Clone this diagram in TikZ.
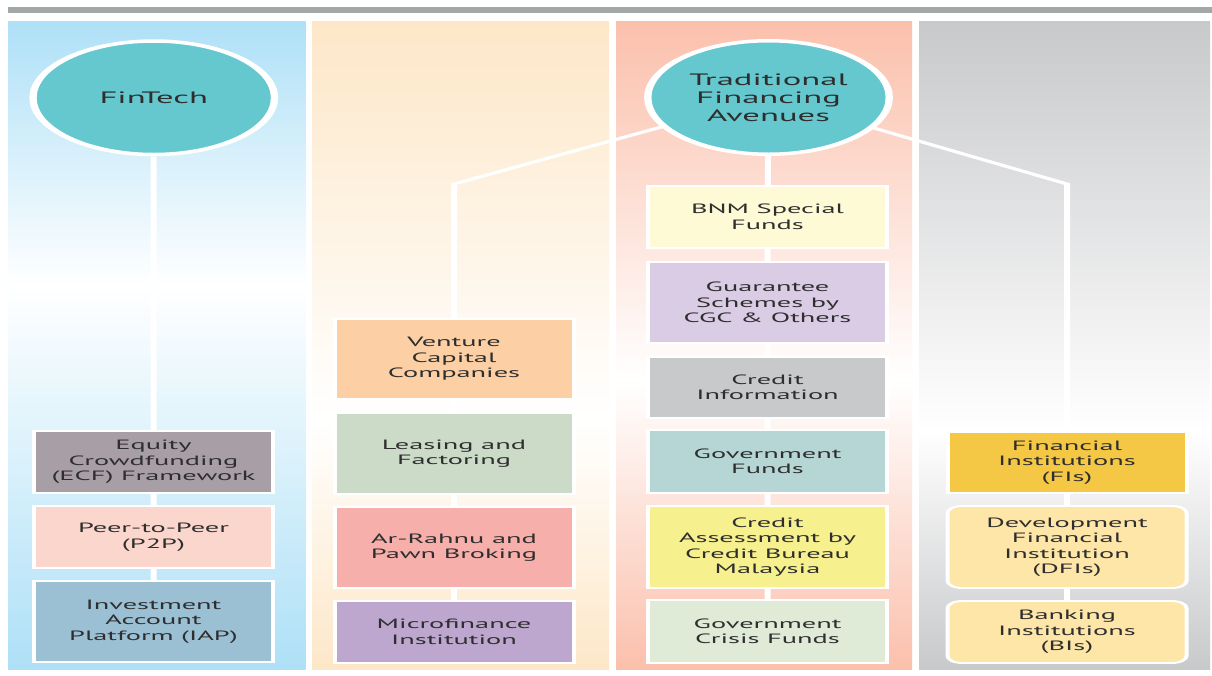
\documentclass[tikz,border=0pt]{standalone}
\usepackage{fontspec}
\setmainfont{PT Sans}
\usetikzlibrary{shapes.geometric}

% panel tints
\definecolor{rulegray}{HTML}{A2A7A7}
\definecolor{panelA}{HTML}{AEE0F7}
\definecolor{panelB}{HTML}{FDE7C8}
\definecolor{panelC}{HTML}{FBC0AC}
\definecolor{panelD}{HTML}{C8C9CB}
% node fills
\definecolor{oval}{HTML}{65C8CF}
\definecolor{ink}{HTML}{2E2E2E}
\definecolor{fECF}{HTML}{A89EA6}
\definecolor{fPTP}{HTML}{FBD6CC}
\definecolor{fIAP}{HTML}{9BBFD3}
\definecolor{fVCC}{HTML}{FCCFA4}
\definecolor{fLNF}{HTML}{CCDBC8}
\definecolor{fARP}{HTML}{F6AFAA}
\definecolor{fMFI}{HTML}{BEA7CF}
\definecolor{fBNM}{HTML}{FEFAD5}
\definecolor{fGCG}{HTML}{D9CCE4}
\definecolor{fCRI}{HTML}{C8C9CA}
\definecolor{fGVF}{HTML}{B6D6D6}
\definecolor{fCAB}{HTML}{F7F08F}
\definecolor{fGCF}{HTML}{DFEBD7}
\definecolor{fFIS}{HTML}{F4C744}
\definecolor{fDFI}{HTML}{FEE6A8}

\newcommand\boxfont{\fontsize{13.5}{15.5}\selectfont}
\newcommand\ovalfont{\fontsize{16.5}{18}\selectfont}

\begin{document}
\begin{tikzpicture}[x=1pt,y=-1pt]
\useasboundingbox (0,0) rectangle (1212,675);
\fill[white] (0,0) rectangle (1212,675);

% top rule
\fill[rulegray] (8,7.3) rectangle (1212,12.7);

% four column panels, fading to white towards the middle
\shade[top color=panelA,bottom color=white] (8,21) rectangle (305.5,285.5);
\shade[top color=white,bottom color=panelA] (8,285) rectangle (305.5,669);
\shade[top color=panelB,bottom color=white] (312,21) rectangle (609,420.5);
\shade[top color=white,bottom color=panelB] (312,420) rectangle (609,669);
\shade[top color=panelC,bottom color=white] (616,21) rectangle (912,380.5);
\shade[top color=white,bottom color=panelC] (616,380) rectangle (912,669);
\shade[top color=panelD,bottom color=white] (919,21) rectangle (1210,430.5);
\shade[top color=white,bottom color=panelD] (919,430) rectangle (1210,669);

% the chart itself is laid out narrow and widened by the canvas transform
\begin{scope}[x=0.47619pt, transform canvas={xscale=2.1},
  hub/.style={ellipse, fill=oval, draw=white, line width=3.5pt,
    minimum width={241.5pt/2.1}, minimum height=113.5pt, inner sep=0pt,
    align=center, text=ink, font=\ovalfont},
  cell/.style={rectangle, draw=white, line width=1.9pt,
    minimum width={239pt/2.1}, inner sep=0pt, align=center,
    text=ink, font=\boxfont},
  pill/.style={cell, rounded corners=7pt},
  link/.style={draw=white, line width={6pt/2.1}}]

  \node[hub] (fintech) at (153.75,97.75) {FinTech};
  \node[hub] (tfa) at (768.5,97.5) {Traditional\\Financing\\Avenues};

  % FinTech column
  \node[cell, fill=fECF, minimum height=62pt] (ecf) at (153.5,462) {Equity\\Crowdfunding\\(ECF) Framework};
  \node[cell, fill=fPTP, minimum height=62pt] (p2p) at (153.5,537) {Peer-to-Peer\\(P2P)};
  \node[cell, fill=fIAP, minimum height=81pt] (iap) at (153.5,621.5) {Investment\\Account\\Platform (IAP)};

  % non-bank column
  \node[cell, fill=fVCC, minimum height=80pt] (vcc) at (454,359) {Venture\\Capital\\Companies};
  \node[cell, fill=fLNF, minimum height=81pt] (lnf) at (454,453.5) {Leasing and\\Factoring};
  \node[cell, fill=fARP, minimum height=81pt] (arp) at (454,547.5) {Ar-Rahnu and\\Pawn Broking};
  \node[cell, fill=fMFI, minimum height=62pt] (mfi) at (454,632) {Microfinance\\Institution};

  % support schemes column
  \node[cell, fill=fBNM, minimum height=62pt] (bnm) at (767.5,217) {BNM Special\\Funds};
  \node[cell, fill=fGCG, minimum height=81pt] (gcg) at (767.5,302.5) {Guarantee\\Schemes by\\CGC \& Others};
  \node[cell, fill=fCRI, minimum height=61pt] (cri) at (767.5,387.5) {Credit\\Information};
  \node[cell, fill=fGVF, minimum height=63pt] (gvf) at (767.5,461.5) {Government\\Funds};
  \node[cell, fill=fCAB, minimum height=82pt] (cab) at (767.5,547) {Credit\\Assessment by\\Credit Bureau\\Malaysia};
  \node[cell, fill=fGCF, minimum height=63pt] (gcf) at (767.5,631.5) {Government\\Crisis Funds};

  % financial institutions column
  \node[cell, fill=fFIS, minimum height=61pt] (fis) at (1067,462.5) {Financial\\Institutions\\(FIs)};
  \node[pill, fill=fDFI, minimum height=82pt] (dfi) at (1067,547) {Development\\Financial\\Institution\\(DFIs)};
  \node[pill, fill=fDFI, minimum height=62pt] (bis) at (1067,632) {Banking\\Institutions\\(BIs)};

  \coordinate (lb) at (454,184);
  \coordinate (rb) at (1067,184);

  % connectors
  \draw[link] (fintech) -- (ecf) (ecf) -- (p2p) (p2p) -- (iap);
  \draw[link] (tfa) -- (lb) -- (vcc);
  \draw[link] (vcc) -- (lnf) (lnf) -- (arp) (arp) -- (mfi);
  \draw[link] (tfa) -- (bnm) (bnm) -- (gcg) (gcg) -- (cri) (cri) -- (gvf)
              (gvf) -- (cab) (cab) -- (gcf);
  \draw[link] (tfa) -- (rb) -- (fis);
  \draw[link] (fis) -- (dfi) (dfi) -- (bis);
\end{scope}
\end{tikzpicture}
\end{document}
